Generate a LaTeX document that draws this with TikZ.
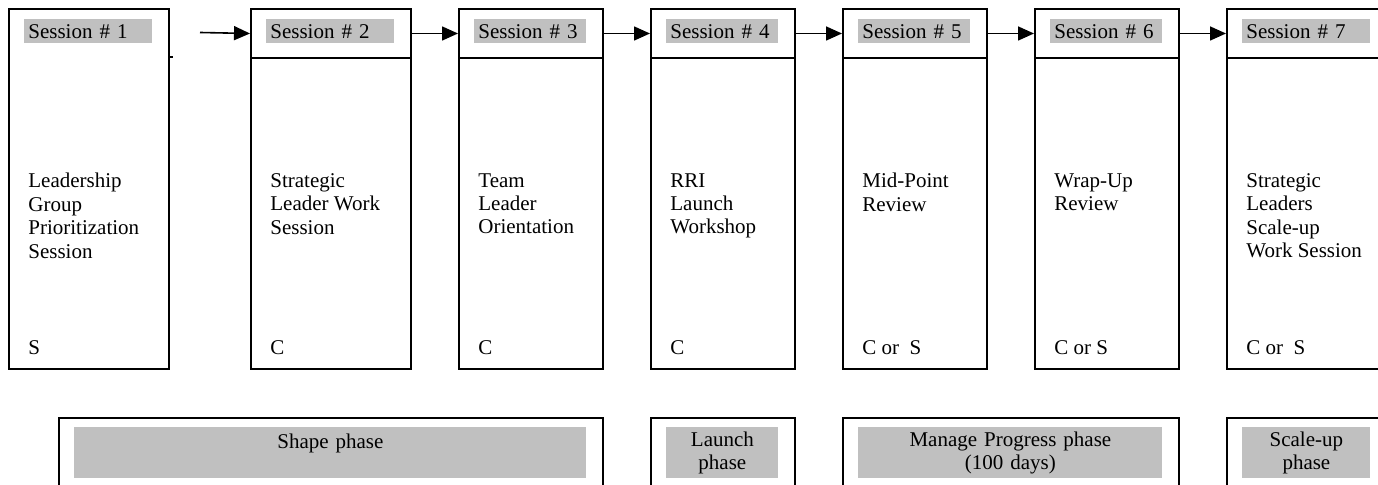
\documentclass[tikz,border=0pt]{standalone}
\usepackage{fontspec}
\setmainfont{Liberation Serif}
\usetikzlibrary{arrows.meta}
\definecolor{tagGray}{RGB}{192,192,192}

\begin{document}
\begin{tikzpicture}[x=0.5pt, y=-0.5pt, font=\fontsize{10.5}{11.7}\selectfont,
		frame/.style={draw, line width=1pt, anchor=north west, inner sep=0pt, minimum height=180pt},
		head/.style={draw, line width=1pt, anchor=north west, inner sep=0pt, minimum height=24.5pt},
		wide/.style={minimum width=80pt},
		narrow/.style={minimum width=72pt},
		tag/.style={fill=tagGray, anchor=north west, inner xsep=2pt, inner ysep=0pt, minimum height=12pt, align=left},
		body/.style={anchor=north west, inner sep=0pt, align=left},
		who/.style={anchor=base west, inner sep=0pt},
		phasebox/.style={draw, line width=1pt, anchor=north west, inner sep=0pt, minimum height=41.5pt},
		phasetag/.style={fill=tagGray, anchor=north west, inner sep=0pt, minimum height=25.5pt, align=center},
		flow/.style={-{Triangle[length=8pt, width=7pt]}, line width=0.8pt}]

		\clip (0, 0) rectangle (1378, 485);

		% sessions
		\node[frame, wide] (s1) at (8, 8) {};
		\node[frame, wide] (s2) at (250, 8) {};
		\node[frame, narrow] (s3) at (458, 8) {};
		\node[frame, narrow] (s4) at (650, 8) {};
		\node[frame, narrow] (s5) at (842, 8) {};
		\node[frame, narrow] (s6) at (1034, 8) {};
		\node[frame, wide] (s7) at (1226, 8) {};

		\node[head, wide] (h2) at (250, 8) {};
		\node[head, narrow] (h3) at (458, 8) {};
		\node[head, narrow] (h4) at (650, 8) {};
		\node[head, narrow] (h5) at (842, 8) {};
		\node[head, narrow] (h6) at (1034, 8) {};
		\node[head, wide] (h7) at (1226, 8) {};

		\node[tag, text width=60pt] (t1) at (24, 19) {Session \# 1};
		\node[tag, text width=60pt] (t2) at (266, 19) {Session \# 2};
		\node[tag, text width=52pt] (t3) at (474, 19) {Session \# 3};
		\node[tag, text width=52pt] (t4) at (666, 19) {Session \# 4};
		\node[tag, text width=52pt] (t5) at (858, 19) {Session \# 5};
		\node[tag, text width=52pt] (t6) at (1050, 19) {Session \# 6};
		\node[tag, text width=60pt] (t7) at (1242, 19) {Session \# 7};

		\node[body] (b1) at (28, 173) {Leadership\\Group\\Prioritization\\Session};
		\node[body] (b2) at (270, 173) {Strategic\\Leader Work\\Session};
		\node[body] (b3) at (478, 173) {Team\\Leader\\Orientation};
		\node[body] (b4) at (670, 173) {RRI\\Launch\\Workshop};
		\node[body] (b5) at (862, 173) {Mid-Point\\Review};
		\node[body] (b6) at (1054, 173) {Wrap-Up\\Review};
		\node[body] (b7) at (1246, 173) {Strategic\\Leaders\\Scale-up\\Work Session};

		\node[who] (w1) at (28, 355) {S};
		\node[who] (w2) at (270, 355) {C};
		\node[who] (w3) at (478, 355) {C};
		\node[who] (w4) at (670, 355) {C};
		\node[who] (w5) at (862, 355) {C or\ \ S};
		\node[who] (w6) at (1054, 355) {C or S};
		\node[who] (w7) at (1246, 355) {C or\ \ S};

		% phases
		\node[phasebox, minimum width=272pt] (p1) at (58, 417) {};
		\node[phasebox, minimum width=72pt] (p2) at (650, 417) {};
		\node[phasebox, minimum width=168pt] (p3) at (842, 417) {};
		\node[phasebox, minimum width=80pt] (p4) at (1226, 417) {};

		\node[phasetag, text width=256pt] (g1) at (74, 427) {Shape phase\\\mbox{}};
		\node[phasetag, text width=56pt] (g2) at (666, 427) {Launch\\phase};
		\node[phasetag, text width=152pt] (g3) at (858, 427) {Manage Progress phase\\(100 days)};
		\node[phasetag, text width=64pt] (g4) at (1242, 427) {Scale-up\\phase};

		% arrows
		\coordinate (a1) at (200, 32.5);
		\draw[line width=1pt] ([yshift=-24.5pt]s1.north east) -- ++(3, 0);
		\draw[flow] (a1) -- (h2.west);
		\draw[flow] (h2.east) -- (h3.west);
		\draw[flow] (h3.east) -- (h4.west);
		\draw[flow] (h4.east) -- (h5.west);
		\draw[flow] (h5.east) -- (h6.west);
		\draw[flow] (h6.east) -- (h7.west);

\end{tikzpicture}
\end{document}
